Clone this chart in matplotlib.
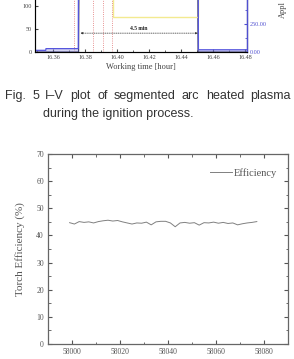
import matplotlib.pyplot as plt
from matplotlib.ticker import MultipleLocator

# ---- data: lower chart (torch efficiency) ----
eff_x = [57999, 58001, 58003, 58005, 58007, 58009, 58011, 58013, 58015, 58017,
         58019, 58021, 58023, 58025, 58027, 58029, 58031, 58033, 58035, 58037,
         58039, 58041, 58043, 58045, 58047, 58049, 58051, 58053, 58055, 58057,
         58059, 58061, 58063, 58065, 58067, 58069, 58071, 58073, 58075, 58077]
eff_y = [44.7, 44.2, 45.1, 44.8, 45.0, 44.6, 45.1, 45.4, 45.6, 45.3,
         45.5, 45.0, 44.6, 44.2, 44.6, 44.5, 44.9, 43.9, 45.0, 45.2,
         45.2, 44.6, 43.2, 44.6, 44.8, 44.5, 44.7, 43.8, 44.7, 44.6,
         44.9, 44.5, 44.8, 44.4, 44.6, 43.9, 44.3, 44.6, 44.8, 45.1]

# ---- data: upper (cropped) I-V plot ----
power_t = [16.349, 16.3555, 16.3556, 16.3758, 16.3760, 16.4507, 16.4509, 16.481]
power_v = [15, 15, 30, 30, 1200, 1200, 20, 20]
cur_t = [16.349, 16.3760, 16.3762, 16.4505, 16.4507, 16.481]
cur_v = [0, 0, 150, 150, 0, 0]
volt_t = [16.3975, 16.3975, 16.4506, 16.4506]
volt_v = [150, 76, 76, 150]
event_t = [16.3731, 16.3850, 16.3913, 16.3969]
run_start, run_end = 16.3772, 16.4506

caption1 = ["Fig.", "5", "I\u2013V", "plot", "of", "segmented", "arc", "heated", "plasma"]
caption2 = "during the ignition process."

W, H = 294, 359
fig = plt.figure(figsize=(2.94, 3.59), dpi=100)
serif = 'Liberation Serif'
sans = 'Liberation Sans'
gray = '#444444'

# ---------- upper cropped plot ----------
ax1 = fig.add_axes([35 / W, 1 - 52 / H, 212 / W, 52 / H])
ax1.plot(cur_t, cur_v, color='#222244', lw=0.8)
ax1.plot(volt_t, volt_v, color='#f3ea90', lw=1.0)
for t in event_t:
    ax1.axvline(t, color='#e07070', lw=0.6, ls=':')
ax1.annotate('', xy=(run_end, 41), xytext=(run_start, 41),
             arrowprops=dict(arrowstyle='<|-|>', ls=':', lw=0.5, color='#222222',
                             mutation_scale=3, shrinkA=0, shrinkB=0))
ax1.text((run_start + run_end) / 2, 51, '4.5 min', fontsize=4, fontweight='bold',
         family=serif, ha='center', va='center', color='#222222')
ax1.set_xlim(16.34875, 16.48125)
ax1.set_ylim(0, 113)
ax1.set_yticks([0, 50, 100])
ax1.set_xticks([16.36, 16.38, 16.40, 16.42, 16.44, 16.46, 16.48])
ax1.set_xticklabels(['16.36', '16.38', '16.40', '16.42', '16.44', '16.46', '16.48'])
ax1.xaxis.set_minor_locator(MultipleLocator(0.01))
ax1.tick_params(which='both', direction='in', labelsize=4.4, colors=gray, pad=2)
ax1.tick_params(which='major', length=2.5)
ax1.tick_params(which='minor', length=1.5)
for lab in ax1.get_xticklabels() + ax1.get_yticklabels():
    lab.set_family(serif)
ax1.set_xlabel('Working time [hour]', fontsize=6, family=serif, color=gray, labelpad=2.5)
ax1.spines['top'].set_visible(False)
ax1.spines['left'].set_color('#555555')
ax1.spines['bottom'].set_color('#555555')

ax2 = ax1.twinx()
ax2.plot(power_t, power_v, color='#5555dd', lw=0.9)
ax2.fill_between(power_t[:4], power_v[:4], color='#8888dd', alpha=0.35, lw=0)
ax2.fill_between(power_t[6:], power_v[6:], color='#8888dd', alpha=0.35, lw=0)
ax2.set_ylim(0, 464)
ax2.set_yticks([0, 250])
ax2.set_yticklabels(['0.00', '250.00'])
ax2.yaxis.set_minor_locator(MultipleLocator(125))
ax2.tick_params(which='both', direction='in', labelsize=4.4, colors='#5050d0', pad=2)
ax2.tick_params(which='major', length=2.5)
ax2.tick_params(which='minor', length=1.5)
for lab in ax2.get_yticklabels():
    lab.set_family(serif)
ax2.spines['top'].set_visible(False)
ax2.spines['right'].set_color('#5050d0')
ax2.spines['right'].set_linewidth(1.0)
fig.text(283 / W, 1 - 18 / H, 'Appl', rotation=90, ha='center', va='bottom',
         fontsize=6, family=serif, color=gray)

# ---------- caption (justified first line) ----------
renderer = fig.canvas.get_renderer()
words = [fig.text(0, 1 - 96 / H, w, fontsize=9, family=sans, color='#333333',
                  ha='left', va='center') for w in caption1]
widths = [t.get_window_extent(renderer).width for t in words]
left, right = 5, 291
gap = (right - left - sum(widths)) / (len(words) - 1)
x = left
for t, wd in zip(words, widths):
    t.set_x(x / W)
    x += wd + gap
fig.text(43 / W, 1 - 114 / H, caption2, fontsize=9, family=sans,
         color='#333333', ha='left', va='center')

# ---------- lower efficiency chart ----------
ax = fig.add_axes([48 / W, 15 / H, 240 / W, 190 / H])
ax.plot(eff_x, eff_y, color='#808080', lw=0.7, label='Efficiency')
ax.set_xlim(57990, 58090)
ax.set_ylim(0, 70)
ax.set_xticks([58000, 58020, 58040, 58060, 58080])
ax.set_yticks(range(0, 71, 10))
ax.xaxis.set_minor_locator(MultipleLocator(10))
ax.yaxis.set_minor_locator(MultipleLocator(5))
ax.tick_params(which='both', direction='in', top=True, right=True,
               labelsize=5.5, colors='#555555')
ax.tick_params(which='major', length=3, pad=3)
ax.tick_params(which='minor', length=1.8)
for lab in ax.get_xticklabels() + ax.get_yticklabels():
    lab.set_family(serif)
for s in ax.spines.values():
    s.set_color('#666666')
    s.set_linewidth(0.9)
ax.set_ylabel('Torch Efficiency (%)', fontsize=8, family=serif, color='#555555', labelpad=8)
leg = ax.legend(loc='center left', bbox_to_anchor=((205 - 48) / 240, (344 - 173) / 190),
                frameon=False, borderpad=0, handlelength=2.1, handletextpad=0.2,
                prop={'family': serif, 'size': 7.5})
for txt in leg.get_texts():
    txt.set_color('#555555')

fig.savefig('out.png', dpi=100)
